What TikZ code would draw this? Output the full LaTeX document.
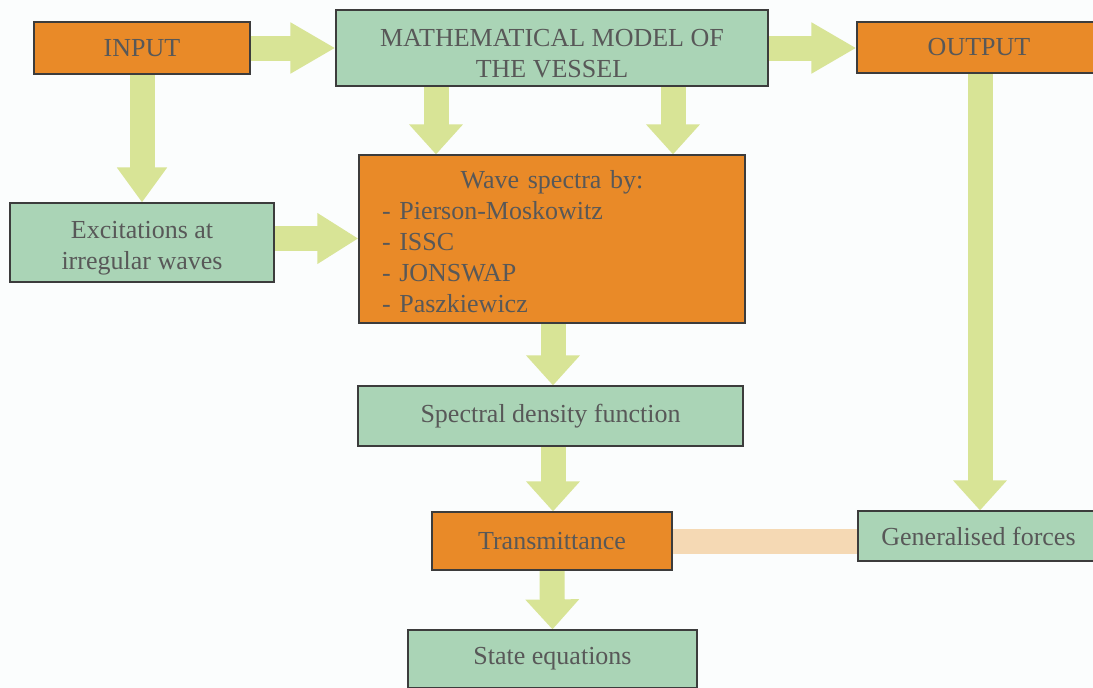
\documentclass[tikz,border=0pt]{standalone}
\usepackage{fontspec}
\setmainfont{Liberation Serif}
\usetikzlibrary{arrows.meta,backgrounds}
\definecolor{orangebox}{RGB}{233,138,40}
\definecolor{greenbox}{RGB}{170,212,182}
\definecolor{arrowc}{RGB}{216,228,150}
\definecolor{beigec}{RGB}{245,217,180}
\definecolor{bgc}{RGB}{251,253,253}
\definecolor{txt}{RGB}{88,88,88}
\definecolor{edge}{RGB}{60,60,60}
\newcommand{\topstrut}[1]{\rule{0pt}{#1}}
\tikzset{
  box/.style={rectangle, draw=edge, line width=1.2pt, inner sep=0pt, text=txt,
    font=\fontsize{26}{31}\selectfont, align=center},
  obox/.style={box, fill=orangebox},
  gbox/.style={box, fill=greenbox},
  fatv/.style={draw=arrowc, line width=25pt, -{Triangle[width=52pt,length=30pt]}},
  fath/.style={draw=arrowc, line width=25pt, -{Triangle[width=48pt,length=45pt]}},
  band/.style={draw=beigec, line width=25pt}
}
\begin{document}
\begin{tikzpicture}[x=1pt,y=-1pt]
\useasboundingbox (0,0) rectangle (1093,688);
\node[obox, minimum width=216pt, minimum height=52pt] (input) at (142,48) {INPUT};
\node[gbox, minimum width=432pt, minimum height=76pt] (model) at (552,48) {\topstrut{28pt}MATHEMATICAL MODEL OF\\THE VESSEL};
\node[obox, minimum width=244pt, minimum height=51pt] (output) at (979,47.5) {OUTPUT};
\node[gbox, minimum width=264pt, minimum height=79pt] (excit) at (142,242.5) {\topstrut{29pt}Excitations at\\irregular waves};
\node[obox, minimum width=386pt, minimum height=168pt, text width=340pt, align=left] (wave) at (552,239)
  {\makebox[340pt][c]{\topstrut{24pt}Wave spectra by:}\\- Pierson-Moskowitz\\- ISSC\\- JONSWAP\\- Paszkiewicz};
\node[gbox, minimum width=385pt, minimum height=60pt] (spectral) at (550.5,416) {Spectral density function};
\node[obox, minimum width=240pt, minimum height=58pt] (trans) at (552,541) {Transmittance};
\node[gbox, minimum width=241pt, minimum height=50pt] (gen) at (978.5,536) {Generalised forces};
\node[gbox, minimum width=289pt, minimum height=58pt] (state) at (552.5,659) {State equations};
\begin{scope}[on background layer]
  \fill[bgc] (0,0) rectangle (1093,688);
  \draw[fath] (input.east) -- (model.west);
  \draw[fath] (model.east) -- (output.west |- model.east);
  \draw[fatv, -{Triangle[width=48pt,length=35pt]}] (input.south) -- (excit.north);
  \draw[fath, -{Triangle[width=48pt,length=41pt]}] ([yshift=4pt]excit.east) -- ([yshift=4pt]excit.east -| wave.west);
  \draw[fatv] ([xshift=-116pt]model.south) -- ([xshift=-116pt]model.south |- wave.north);
  \draw[fatv] ([xshift=121pt]model.south) -- ([xshift=121pt]model.south |- wave.north);
  \draw[fatv] ([xshift=1pt]wave.south) -- ([xshift=1pt]wave.south |- spectral.north);
  \draw[fatv] ([xshift=2.5pt]spectral.south) -- ([xshift=2.5pt]spectral.south |- trans.north);
  \draw[fatv] (trans.south) -- (state.north);
  \draw[fatv] ([xshift=1pt]output.south) -- ([xshift=1pt]output.south |- gen.north);
  \draw[band] (trans.east) -- (trans.east -| gen.west);
\end{scope}
\end{tikzpicture}
\end{document}
